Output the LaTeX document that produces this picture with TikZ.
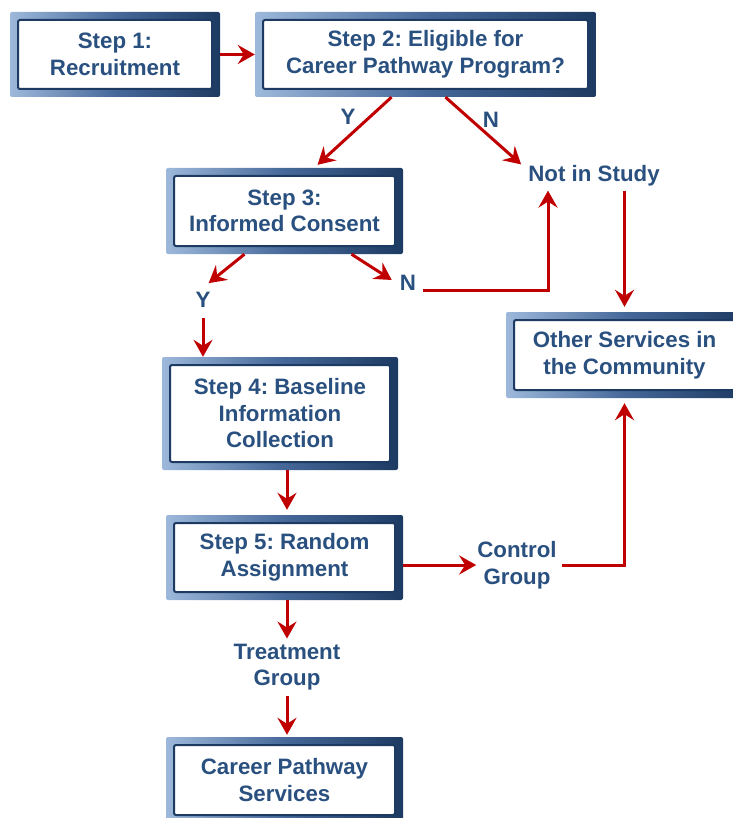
\documentclass[tikz,border=0pt]{standalone}
\usepackage{fontspec}
\setmainfont{Liberation Sans}
\usetikzlibrary{arrows.meta,calc}
\definecolor{boxlight}{HTML}{9DB8DA}
\definecolor{boxmid}{HTML}{46699A}
\definecolor{boxdark}{HTML}{1D3A62}
\definecolor{labelblue}{HTML}{29507F}
\definecolor{flowred}{HTML}{C00000}
\newcommand{\labelfont}{\bfseries\frenchspacing\fontsize{22.3}{26.5}\selectfont}
\tikzset{
  stepbox/.style = {shape=rectangle, rounded corners=2pt, anchor=center,
                    left color=boxlight, right color=boxdark, middle color=boxmid,
                    align=center, text=labelblue, font=\labelfont,
                    minimum width=237pt, minimum height=86pt, inner sep=0pt,
                    path picture={\draw[boxdark, fill=white, line width=2pt]
                      ([xshift=8pt,yshift=-8pt]path picture bounding box.north west) rectangle
                      ([xshift=-8pt,yshift=8pt]path picture bounding box.south east);}},
  tag/.style     = {align=center, text=labelblue, font=\labelfont, inner sep=1pt},
  flow/.style    = {-{Stealth[length=17pt,width=19pt,inset=6pt]}, flowred, line width=3pt},
}

\begin{document}
\begin{tikzpicture}[x=1pt,y=-1pt]
  \useasboundingbox (0,0) rectangle (732,818);
  \node[stepbox, minimum width=210pt, minimum height=85pt] (recruit) at (115,54.5) {Step 1:\\Recruitment};
  \node[stepbox, minimum width=341pt, minimum height=85pt] (eligible) at (425.5,54.5) {Step 2: Eligible for\\Career Pathway Program?};
  \node[stepbox] (consent) at (284.5,211) {Step 3:\\Informed Consent};
  \node[stepbox, minimum width=236pt, minimum height=113pt] (baseline) at (280,413.5) {Step 4: Baseline\\Information\\Collection};
  \node[stepbox, minimum height=85pt] (random) at (284.5,557.5) {Step 5: Random\\Assignment};
  \node[stepbox] (services) at (284.5,780) {Career Pathway\\Services};
  \node[stepbox] (other) at (624.5,355) {Other Services in\\the Community};

  \node[tag] (notin) at (594,176) {Not in Study};
  \node[tag] (yes1) at (348,117) {Y};
  \node[tag] (no1) at (491,120) {N};
  \node[tag] (yes2) at (203,300) {Y};
  \node[tag] (no2) at (408,283) {N};
  \node[tag] (control) at (517,565) {Control\\Group};
  \node[tag] (treat) at (287,667) {Treatment\\Group};

  \draw[flow] (recruit) -- (eligible);
  \draw[flow] ([xshift=-34pt]eligible.south) -- ([xshift=33pt,yshift=3pt]consent.north);
  \draw[flow] ([xshift=20pt]eligible.south) -- ([xshift=-6pt]notin.north west);
  \draw[flow, shorten <=3pt, shorten >=5pt] (notin.south -| other.north) -- (other.north);
  \draw[flow] ([xshift=-40pt]consent.south) -- ([xshift=-3pt,yshift=8pt]yes2.north east);
  \draw[flow] ([xshift=67pt]consent.south) -- ([xshift=-7pt,yshift=3pt]no2.west);
  \draw[flow, shorten <=6pt, shorten >=3pt] (no2.base east) -| ([xshift=-46pt]notin.south);
  \draw[flow, shorten <=9pt] (yes2.south) -- (yes2.south |- baseline.north);
  \draw[flow, shorten >=5pt] ([xshift=7pt]baseline.south) -- ([xshift=7pt]baseline.south |- random.north);
  \draw[flow] (random.east |- control.west) -- (control.west);
  \draw[flow, shorten <=4pt, shorten >=5pt] (control.east) -| (other.south);
  \draw[flow, shorten >=4pt] (random.south -| treat.north) -- (treat.north);
  \draw[flow, shorten <=5pt, shorten >=2pt] (treat.south) -- (treat.south |- services.north);
\end{tikzpicture}
\end{document}
